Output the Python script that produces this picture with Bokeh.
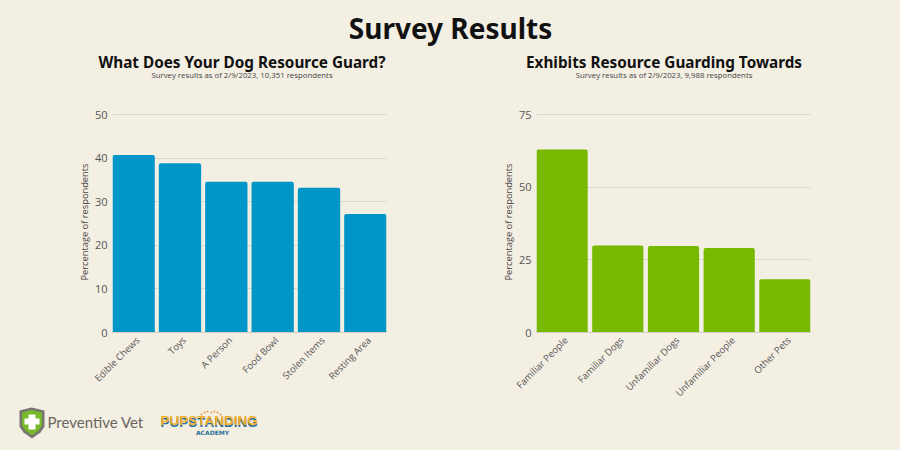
from bokeh.plotting import figure
from bokeh.layouts import column, row
from bokeh.models import Label, Range1d, FixedTicker
from bokeh.embed import file_html
from bokeh.resources import INLINE
import math

BG = "#F4EFE3"
left_cats = ["Edible Chews", "Toys", "A Person", "Food Bowl", "Stolen Items", "Resting Area"]
left_vals = [40.7, 38.8, 34.6, 34.6, 33.2, 27.2]
left_ticks = [0, 10, 20, 30, 40, 50]
right_cats = ["Familiar People", "Familiar Dogs", "Unfamiliar Dogs", "Unfamiliar People", "Other Pets"]
right_vals = [63.0, 29.9, 29.8, 29.1, 18.3]
right_ticks = [0, 25, 50, 75]
main_title = "Survey Results"
left_title = "What Does Your Dog Resource Guard?"
left_sub = "Survey results as of 2/9/2023, 10,351 respondents"
right_title = "Exhibits Resource Guarding Towards"
right_sub = "Survey results as of 2/9/2023, 9,988 respondents"
y_label = "Percentage of respondents"
shield_outer_x = [19, 31, 44, 44, 40, 31.5, 23, 19]
shield_outer_y = [40, 43, 40, 24, 18, 12, 18, 24]
shield_inner_x = [21.5, 31, 41.5, 41.5, 38, 31.5, 25, 21.5]
shield_inner_y = [38, 40.5, 38, 25, 20, 15, 20, 25]
cross_x = [28, 35, 35, 39, 39, 35, 35, 28, 28, 24, 24, 28]
cross_y = [36, 36, 32, 32, 26, 26, 21, 21, 26, 26, 32, 32]
crown_x = [201, 204, 207, 211, 214, 217, 220]
crown_y = [36, 38, 39, 38, 39, 38, 36]


def chart(cats, vals, ticks, color, bl, br, bar_w, label_shift):
    ymax = ticks[-1]
    n = len(cats)
    idx = list(range(n))
    # The y range runs slightly past the top tick so that its gridline is not cut by the frame edge.
    p = figure(width=450, height=335, x_range=Range1d(-bar_w / 2, n - 1 + bar_w / 2),
               y_range=Range1d(0, ymax * 221 / 218), output_backend="svg", toolbar_location=None,
               min_border_left=bl, min_border_right=br, min_border_top=29, min_border_bottom=85,
               background_fill_color=BG, border_fill_color=BG, outline_line_color=None)
    p.vbar(x=idx, top=vals, width=bar_w, color=color, line_color=None, border_radius=[2, 2, 0, 0])
    p.xgrid.visible = False
    p.ygrid.grid_line_color = "#DAD7CA"
    p.ygrid.level = "underlay"
    p.ygrid.ticker = FixedTicker(ticks=ticks)
    p.yaxis.ticker = FixedTicker(ticks=ticks)
    p.yaxis.axis_line_color = None
    p.yaxis.major_tick_line_color = None
    p.yaxis.minor_tick_line_color = None
    p.yaxis.major_tick_out = 0
    p.yaxis.major_label_text_font = "Open Sans"
    p.yaxis.major_label_text_font_size = "11px"
    p.yaxis.major_label_text_color = "#555555"
    p.yaxis.major_label_standoff = 5
    p.yaxis.axis_label = y_label
    p.yaxis.axis_label_text_font = "Open Sans"
    p.yaxis.axis_label_text_font_size = "9.3px"
    p.yaxis.axis_label_text_font_style = "normal"
    p.yaxis.axis_label_text_color = "#444444"
    p.yaxis.axis_label_standoff = 1
    tick_pos = [i + label_shift for i in idx]
    p.xaxis.ticker = FixedTicker(ticks=tick_pos)
    p.xaxis.major_label_overrides = dict(zip(tick_pos, cats))
    p.xaxis.axis_line_color = "#D3D0C3"
    p.xaxis.major_tick_line_color = None
    p.xaxis.minor_tick_line_color = None
    p.xaxis.major_tick_out = 0
    p.xaxis.major_label_orientation = math.pi / 4
    p.xaxis.major_label_text_font = "Open Sans"
    p.xaxis.major_label_text_font_size = "9.5px"
    p.xaxis.major_label_text_color = "#555555"
    p.xaxis.major_label_standoff = 6
    return p


left = chart(left_cats, left_vals, left_ticks, "#0096C7", 112, 64, 0.913, 0.087)
right = chart(right_cats, right_vals, right_ticks, "#76B900", 86, 90, 0.919, 0.072)

header = figure(width=900, height=82, x_range=Range1d(0, 900), y_range=Range1d(0, 82),
                output_backend="svg", toolbar_location=None, min_border=0,
                background_fill_color=BG, border_fill_color=BG, outline_line_color=None)
header.axis.visible = False
header.grid.visible = False
header.add_layout(Label(x=450, y=55, text=main_title, text_align="center", text_baseline="middle",
                        text_font="Noto Sans", text_font_style="bold", text_font_size="28px",
                        text_color="#111111"))
for cx, t, s in [(241.5, left_title, left_sub), (663.5, right_title, right_sub)]:
    header.add_layout(Label(x=cx, y=21, text=t, text_align="center", text_baseline="middle",
                            text_font="Noto Sans", text_font_style="bold", text_font_size="15.3px",
                            text_color="#111111"))
    header.add_layout(Label(x=cx, y=8, text=s, text_align="center", text_baseline="middle",
                            text_font="Open Sans", text_font_size="7.8px", text_color="#444444"))

footer = figure(width=900, height=48, x_range=Range1d(0, 900), y_range=Range1d(0, 48),
                output_backend="svg", toolbar_location=None, min_border=0,
                background_fill_color=BG, border_fill_color=BG, outline_line_color=None,
                margin=(-15, 0, 0, 0))
footer.axis.visible = False
footer.grid.visible = False
footer.patch(shield_outer_x, shield_outer_y, color="#77756F", line_color=None)
footer.patch(shield_inner_x, shield_inner_y, color="#76B82A", line_color=None)
footer.patch(cross_x, cross_y, color="#FFFFFF", line_color=None)
footer.scatter(crown_x, crown_y, size=2, color="#EE9A4D", line_color=None)
footer.add_layout(Label(x=47, y=29, text="Preventive Vet", text_baseline="middle", text_font="Lato",
                        text_font_size="15px", text_color="#68665F"))
footer.add_layout(Label(x=160, y=28, text="PUPSTANDING", text_baseline="middle", text_font="Liberation Sans",
                        text_font_style="bold", text_font_size="13.5px", text_color="#2A6F97"))
footer.add_layout(Label(x=160, y=30, text="PUPSTANDING", text_baseline="middle", text_font="Liberation Sans",
                        text_font_style="bold", text_font_size="13.5px", text_color="#F2AE2E"))
footer.add_layout(Label(x=212, y=18, text="ACADEMY", text_align="center", text_baseline="middle",
                        text_font="DejaVu Sans", text_font_style="bold", text_font_size="6px",
                        text_color="#2A6F97"))

page = column(header, row(left, right, spacing=0), footer, spacing=0)
html = file_html(page, INLINE)
html = html.replace("<head>", "<head><style>html,body{background:" + BG + ";}</style>", 1)
open("out.html", "w").write(html)
